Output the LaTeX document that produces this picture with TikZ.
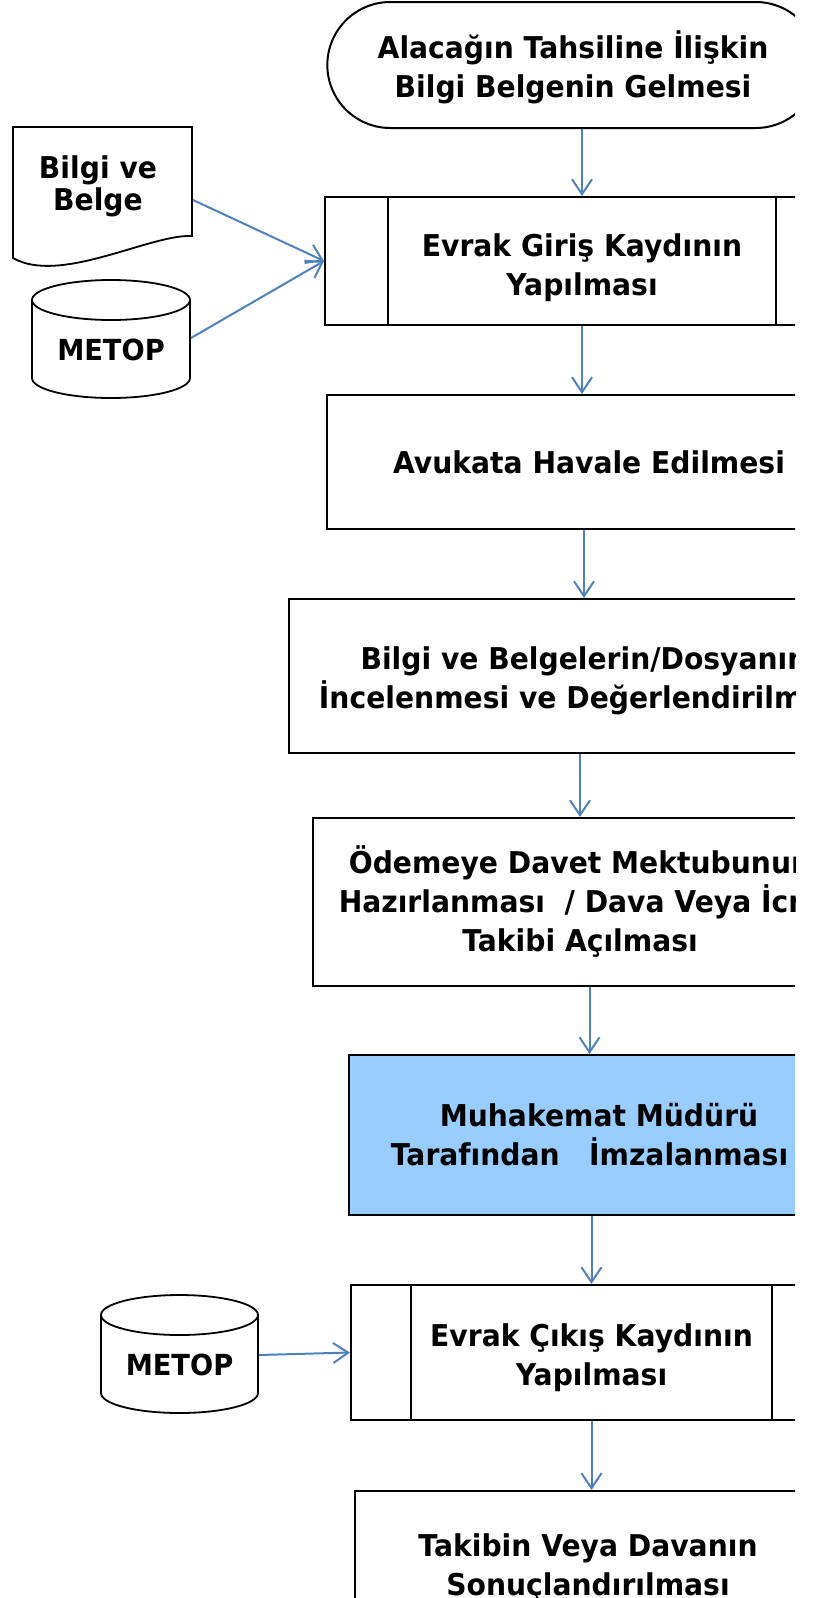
\documentclass[tikz,border=0pt]{standalone}
\usepackage{fontspec}
\newfontfamily\flowfont{DejaVu Sans}[FakeStretch=0.94]
\usetikzlibrary{shapes.misc, arrows.meta}
\definecolor{flowblue}{HTML}{4F81BD}
\definecolor{signblue}{HTML}{99CCFF}
\newcommand\lift[1]{\rule{0pt}{#1}}

\tikzset{
  stepbox/.style={rectangle, draw=black, line width=2pt, align=center,
    font=\flowfont\bfseries\fontsize{30}{39}\selectfont},
  startbox/.style={stepbox, rounded rectangle},
  signbox/.style={stepbox, fill=signblue},
  subline/.style={draw=black, line width=1.5pt},
  shapeline/.style={draw=black, line width=1.8pt},
  flow/.style={draw=flowblue, line width=2pt, -{Straight Barb[length=15pt,width=20pt]}}
}

\begin{document}
\begin{tikzpicture}[x=1pt, y=1pt]
  \useasboundingbox (0,0) rectangle (817,-1598);
  \begin{scope}
  \clip (0,0) rectangle (795,-1598);

  \node[startbox, minimum width=498pt, minimum height=126pt] (start) at (573,-65) {\lift{32pt}Alacağın Tahsiline İlişkin\\Bilgi Belgenin Gelmesi};
  \node[stepbox, minimum width=514pt, minimum height=128pt] (proc1) at (582,-261) {\lift{36pt}Evrak Giriş Kaydının\\Yapılması};
  \node[stepbox, minimum width=524pt, minimum height=134pt] (havale) at (589,-462) {Avukata Havale Edilmesi};
  \node[stepbox, minimum width=590pt, minimum height=154pt] (incele) at (584,-676) {\lift{32pt}Bilgi ve Belgelerin/Dosyanın\\İncelenmesi ve Değerlendirilmesi};
  \node[stepbox, minimum width=534pt, minimum height=168pt] (davet) at (580,-902) {Ödemeye Davet Mektubunun\\Hazırlanması\ \ / Dava Veya İcra\\Takibi Açılması};
  \node[signbox, minimum width=481pt, minimum height=160pt] (imza) at (589.5,-1135) {\hspace*{19pt}Muhakemat Müdürü\\Tarafından\ \ \ İmzalanması};
  \node[stepbox, minimum width=481pt, minimum height=135pt] (proc2) at (591.5,-1352.5) {\lift{33pt}Evrak Çıkış Kaydının\\Yapılması};
  \node[stepbox, minimum width=466pt, minimum height=154pt] (sonuc) at (588,-1568) {Takibin Veya Davanın\\Sonuçlandırılması};

  % side lines of the predefined process boxes
  \draw[subline] ([xshift=64pt]proc1.north west) -- ([xshift=64pt]proc1.south west);
  \draw[subline] ([xshift=-64pt]proc1.north east) -- ([xshift=-64pt]proc1.south east);
  \draw[subline] ([xshift=61pt]proc2.north west) -- ([xshift=61pt]proc2.south west);
  \draw[subline] ([xshift=-61pt]proc2.north east) -- ([xshift=-61pt]proc2.south east);

  % document
  \draw[shapeline] (13,-127) -- (192,-127) -- (192,-236) .. controls (150,-234) and (60,-285) .. (13,-258) -- cycle;
  \node[stepbox, draw=none, minimum width=188pt, font=\flowfont\bfseries\fontsize{30}{32}\selectfont] (doc) at (98,-186) {Bilgi ve\\Belge};

  % databases
  \foreach \cx/\cy/\rx in {111/-339/79, 179.5/-1354/78.5} {
    \draw[shapeline] (\cx-\rx,\cy+39) -- (\cx-\rx,\cy-39)
      arc[start angle=180, end angle=360, x radius=\rx, y radius=20]
      -- (\cx+\rx,\cy+39)
      arc[start angle=0, end angle=180, x radius=\rx, y radius=20] -- cycle;
    \draw[shapeline] (\cx-\rx,\cy+39) arc[start angle=180, end angle=360, x radius=\rx, y radius=20];
  }
  \node[stepbox, draw=none, minimum width=158pt, font=\flowfont\bfseries\fontsize{29}{34}\selectfont] (db1) at (111,-350) {METOP};
  \node[stepbox, draw=none, minimum width=157pt, font=\flowfont\bfseries\fontsize{29}{34}\selectfont] (db2) at (179.5,-1365) {METOP};

  \draw[flow] (start.south -| proc1.north) -- (proc1.north);
  \draw[flow] (proc1.south) -- (proc1.south |- havale.north);
  \draw[flow] (havale.south -| incele.north) -- (incele.north);
  \draw[flow] (incele.south -| davet.north) -- (davet.north);
  \draw[flow] (davet.south -| imza.north) -- (imza.north);
  \draw[flow] (imza.south -| proc2.north) -- (proc2.north);
  \draw[flow] (proc2.south) -- (proc2.south |- sonuc.north);
  \draw[flow] ([yshift=-14pt]doc.east) -- (proc1.west);
  \draw[flow] ([yshift=12pt]db1.east) -- (proc1.west);
  \draw[flow] ([yshift=10pt]db2.east) -- (proc2.west);
  \end{scope}
\end{tikzpicture}
\end{document}
